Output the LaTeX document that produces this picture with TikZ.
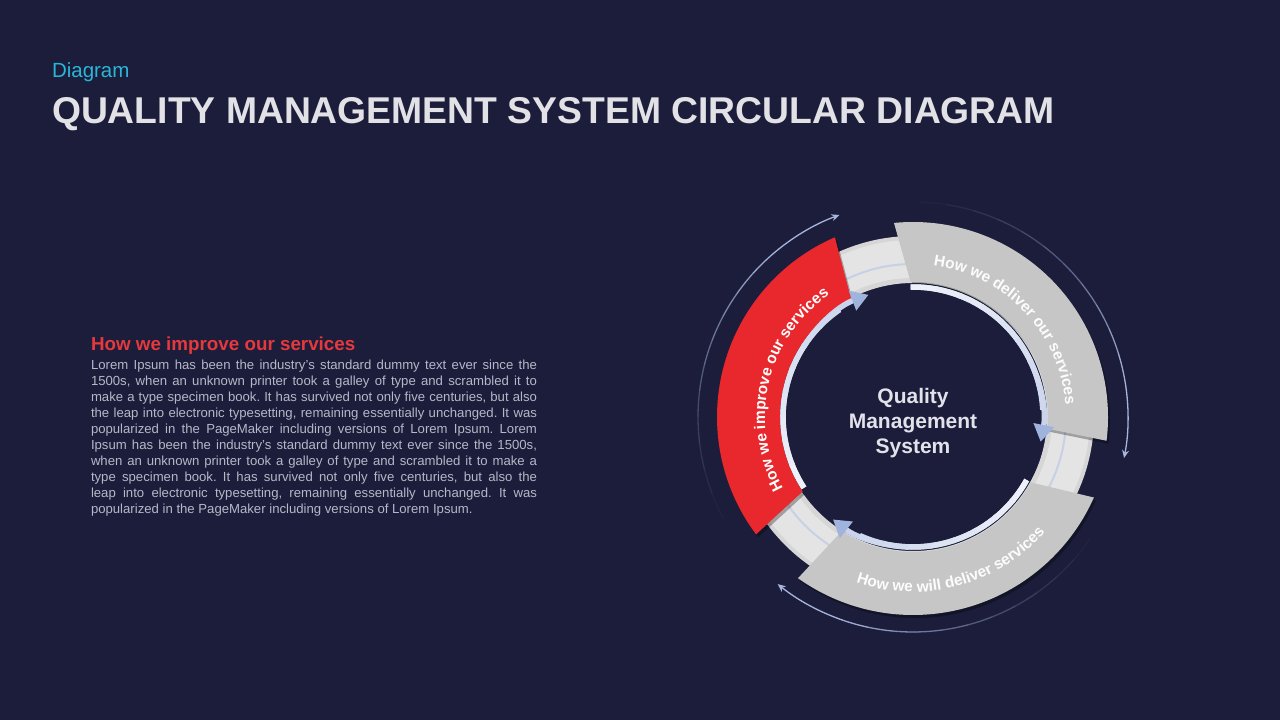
\documentclass[tikz,border=0pt]{standalone}
\usepackage{fontspec}
\setmainfont{Liberation Sans}
\usetikzlibrary{arrows.meta,decorations.text}
\definecolor{bg}{HTML}{1B1D3A}
\definecolor{titlecol}{HTML}{E1E1E6}
\definecolor{kickcol}{HTML}{2BB5D8}
\definecolor{headred}{HTML}{E5393D}
\definecolor{bodycol}{HTML}{B6B8C8}
\definecolor{segred}{HTML}{E8282C}
\definecolor{seggrey}{HTML}{C6C6C6}
\definecolor{trackbase}{HTML}{D6D6D6}
\definecolor{tracklt}{HTML}{E4E4E4}
\definecolor{trackline}{HTML}{C8D0E6}
\definecolor{arrowlight}{HTML}{EEF1F9}
\definecolor{arrowmid}{HTML}{C9D3EC}
\definecolor{arrowblue}{HTML}{A0B3DD}
\definecolor{outercol}{HTML}{A7B4DC}
\definecolor{centercol}{HTML}{E2E2EA}
\tikzset{
  segshadow/.style={preaction={fill=black,fill opacity=.3,transform canvas={xshift=2pt,yshift=-3pt}}},
  seglabel/.style={decorate,decoration={text along path,text align=center,text color=#1}},
  plain/.style={inner sep=0pt,outer sep=0pt}
}
\newcommand\innerarrow[2]{%
  \draw[line width=5.5pt,color=arrowmid,-{Triangle[length=17pt,width=20pt,color=arrowblue]}]
    (#1:130) arc[start angle=#1,end angle=#2,radius=130pt];
  \foreach \k in {0,...,7}{%
    \pgfmathsetmacro\aa{#1+(#2-#1)*0.85*\k/8}%
    \pgfmathsetmacro\ab{#1+(#2-#1)*0.85*(\k+1.1)/8}%
    \pgfmathtruncatemacro\pc{100-12*\k}%
    \draw[line width=5.5pt,color=arrowlight!\pc!arrowmid] (\aa:130) arc[start angle=\aa,end angle=\ab,radius=130pt];
  }%
}
\newcommand\outerarrow[2]{%
  \foreach \k in {0,...,11}{%
    \pgfmathsetmacro\aa{#1+(#2-#1)*0.8*\k/12}%
    \pgfmathsetmacro\ab{#1+(#2-#1)*0.8*(\k+1)/12}%
    \pgfmathsetmacro\op{((\k+0.5)/12)^1.5}%
    \draw[line width=1.3pt,color=outercol,draw opacity=\op] (\aa:215) arc[start angle=\aa,end angle=\ab,radius=215pt];
  }%
  \pgfmathsetmacro\ac{#1+(#2-#1)*0.8}%
  \draw[line width=1.3pt,color=outercol,-{Stealth[length=8pt,width=7pt]}] (\ac:215) arc[start angle=\ac,end angle=#2,radius=215pt];
}
\newcommand\jline[1]{\hbox to 446pt{\spaceskip=0.278em plus 1fil minus 0.12em\xspaceskip=\spaceskip\relax #1}}
\newcommand\lastline[1]{\hbox{\spaceskip=0.278em\xspaceskip=\spaceskip\relax #1}}
\begin{document}
\begin{tikzpicture}[x=1pt,y=1pt]
\fill[bg] (0,0) rectangle (1280,720);
\useasboundingbox (0,0) rectangle (1280,720);

% headings
\node[plain,anchor=base west,text=kickcol,font=\fontsize{20.5}{24}\selectfont] (kicker) at (52,642) {Diagram};
\node[plain,anchor=base west,text=titlecol,font=\fontsize{37.3}{42}\selectfont\bfseries] (title) at (52,596) {QUALITY MANAGEMENT SYSTEM CIRCULAR DIAGRAM};
\node[plain,anchor=base west,text=headred,font=\fontsize{18.8}{22}\selectfont\bfseries] (heading) at (91,369) {How we improve our services};
\node[plain,anchor=base west,text=bodycol,text width=446pt,font=\fontsize{13.15}{16}\selectfont\frenchspacing] (body) at (91,350) {%
\jline{Lorem Ipsum has been the industry’s standard dummy text ever since the}
\jline{1500s, when an unknown printer took a galley of type and scrambled it to}
\jline{make a type specimen book. It has survived not only five centuries, but also}
\jline{the leap into electronic typesetting, remaining essentially unchanged. It was}
\jline{popularized in the PageMaker including versions of Lorem Ipsum. Lorem}
\jline{Ipsum has been the industry’s standard dummy text ever since the 1500s,}
\jline{when an unknown printer took a galley of type and scrambled it to make a}
\jline{type specimen book. It has survived not only five centuries, but also the}
\jline{leap into electronic typesetting, remaining essentially unchanged. It was}
\lastline{popularized in the PageMaker including versions of Lorem Ipsum.}};

\begin{scope}[shift={(913,303)}]
  % track ring
  \fill[trackbase,even odd rule] (0,0) circle[radius=181pt] (0,0) circle[radius=134pt];
  \fill[tracklt,even odd rule] (0,0) circle[radius=177pt] (0,0) circle[radius=139pt];
  \draw[trackline,line width=2pt] (0,0) circle[radius=153pt];

  % segments
  \fill[segred,segshadow] (113.5:196) arc[start angle=113.5,end angle=216.8,radius=196pt]
     -- (214:133) arc[start angle=214,end angle=117.7,radius=133pt] -- cycle;
  \fill[seggrey,segshadow] (95.6:195) arc[start angle=95.6,end angle=-7,radius=195pt]
     -- (-5:135) arc[start angle=-5,end angle=91,radius=135pt] -- cycle;
  \fill[seggrey,segshadow] (-24:198) arc[start angle=-24,end angle=-125.5,radius=198pt]
     -- (-122:135) arc[start angle=-122,end angle=-29,radius=135pt] -- cycle;

  % segment labels
  \path[seglabel=white,decoration={text={|\fontsize{15.5}{16}\selectfont\bfseries|How we improve our services}}]
     (218:148) arc[start angle=218,end angle=115,radius=148pt];
  \path[seglabel=white!94!seggrey,decoration={text={|\fontsize{15.5}{16}\selectfont\bfseries|How we deliver our services}}]
     (93:153) arc[start angle=93,end angle=-6,radius=153pt];
  \path[seglabel=white!94!seggrey,decoration={text={|\fontsize{15.5}{16}\selectfont\bfseries|How we will deliver services}}]
     (236:175) arc[start angle=236,end angle=334,radius=175pt];

  % inner arrows
  \innerarrow{213}{110}
  \innerarrow{91}{-11}
  \innerarrow{-29}{-128}

  % outer arrows
  \outerarrow{215}{110}
  \outerarrow{95}{-11}
  \outerarrow{-28}{-129}

  \node[plain,align=center,text=centercol,font=\fontsize{21}{25}\selectfont\bfseries] (center) at (0,-6) {Quality\\Management\\System};
\end{scope}
\end{tikzpicture}
\end{document}
